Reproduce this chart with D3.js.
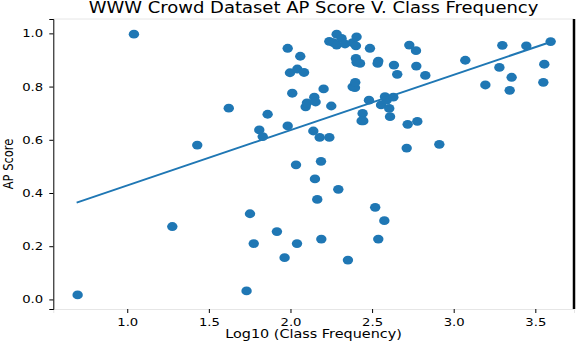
<!DOCTYPE html>
<html>
<head>
<meta charset="utf-8">
<script src="https://cdn.jsdelivr.net/npm/d3@7"></script>
<style>
  body { margin: 0; background: #fff; }
  text { font-family: "DejaVu Sans", sans-serif; fill: #000; }
</style>
</head>
<body>
<script>
// log10 of class frequency (x) and AP score (y)
const logFreq = [
  0.696, 1.041, 1.276, 1.429, 1.622, 1.731, 1.752, 1.775, 1.809, 1.830,
  1.860, 1.917, 1.964, 1.983, 1.983, 1.997, 2.011, 2.034, 2.040, 2.042,
  2.060, 2.083, 2.093, 2.101, 2.140, 2.146, 2.150, 2.154, 2.164, 2.179,
  2.187, 2.189, 2.203, 2.238, 2.238, 2.250, 2.263, 2.283, 2.283, 2.293,
  2.313, 2.334, 2.352, 2.381, 2.381, 2.395, 2.397, 2.401, 2.401, 2.405,
  2.405, 2.426, 2.436, 2.442, 2.446, 2.481, 2.487, 2.519, 2.534, 2.538,
  2.538, 2.555, 2.575, 2.579, 2.589, 2.605, 2.610, 2.630, 2.634, 2.654,
  2.712, 2.718, 2.728, 2.769, 2.771, 2.777, 2.826, 2.912, 3.071, 3.194,
  3.280, 3.298, 3.343, 3.355, 3.445, 3.549, 3.555, 3.594
];
const apScore = [
  0.017, 0.997, 0.274, 0.580, 0.719, 0.032, 0.322, 0.210, 0.637, 0.612,
  0.696, 0.255, 0.157, 0.944, 0.652, 0.852, 0.775, 0.506, 0.210, 0.866,
  0.914, 0.853, 0.724, 0.739, 0.633, 0.760, 0.453, 0.742, 0.376, 0.609,
  0.519, 0.227, 0.791, 0.970, 0.609, 0.727, 0.965, 0.997, 0.956, 0.414,
  0.981, 0.960, 0.148, 0.965, 0.799, 0.796, 0.816, 0.953, 0.906, 0.987,
  0.891, 0.887, 0.671, 0.699, 0.671, 0.749, 0.944, 0.346, 0.887, 0.896,
  0.227, 0.731, 0.296, 0.762, 0.749, 0.718, 0.687, 0.760, 0.881, 0.846,
  0.569, 0.658, 0.956, 0.935, 0.877, 0.669, 0.842, 0.583, 0.899, 0.806,
  0.872, 0.955, 0.786, 0.835, 0.953, 0.816, 0.884, 0.969
];

// fitted trend line end points
const fitX = [0.69, 3.58];
const fitY = [0.364, 0.965];

const xTicks = [1.0, 1.5, 2.0, 2.5, 3.0, 3.5];
const yTicks = [0.0, 0.2, 0.4, 0.6, 0.8, 1.0];

const width = 576, height = 342;
const blue = "#1f77b4";
const stretch = "scale(1.2,1)"; // source image is a bit wider than tall

const svg = d3.select("body").append("svg")
  .attr("width", width)
  .attr("height", height);

const x = d3.scaleLinear().domain([0.547, 3.737]).range([53.3, 574]);
const y = d3.scaleLinear().domain([-0.036, 1.054]).range([309, 19]);

// frame
svg.append("line")
  .attr("x1", 53.3).attr("x2", 574).attr("y1", 19).attr("y2", 19)
  .attr("stroke", "#e6e6e6");
svg.append("line")
  .attr("x1", 574).attr("x2", 574).attr("y1", 19).attr("y2", 309)
  .attr("stroke", "#000").attr("stroke-width", 2.5);

// points
svg.append("g")
  .selectAll("ellipse")
  .data(d3.range(logFreq.length))
  .join("ellipse")
  .attr("cx", i => x(logFreq[i]))
  .attr("cy", i => y(apScore[i]))
  .attr("rx", 5.2)
  .attr("ry", 4.4)
  .attr("fill", blue);

// trend line
svg.append("path")
  .datum(d3.range(fitX.length))
  .attr("fill", "none")
  .attr("stroke", blue)
  .attr("stroke-width", 2)
  .attr("d", d3.line().x(i => x(fitX[i])).y(i => y(fitY[i])));

// x axis
const xAxis = svg.append("g")
  .attr("transform", "translate(0,309)")
  .call(d3.axisBottom(x).tickValues(xTicks).tickFormat(d3.format(".1f")).tickSizeOuter(0).tickSize(4).tickPadding(5));
xAxis.select(".domain").attr("stroke", "#e6e6e6");
xAxis.selectAll(".tick line").attr("stroke", "#000");
xAxis.selectAll(".tick text")
  .attr("font-size", 11)
  .attr("font-family", "DejaVu Sans")
  .attr("transform", stretch);

// y axis
const yAxis = svg.append("g")
  .attr("transform", "translate(53.3,0)")
  .call(d3.axisLeft(y).tickValues(yTicks).tickFormat(d3.format(".1f")).tickSizeOuter(0).tickSize(4).tickPadding(5));
yAxis.select(".domain").attr("stroke", "#000");
yAxis.selectAll(".tick line").attr("stroke", "#000");
yAxis.selectAll(".tick text")
  .attr("font-size", 11)
  .attr("font-family", "DejaVu Sans")
  .attr("x", -8.5)
  .attr("transform", stretch);

// title and axis labels
svg.append("text")
  .attr("transform", `translate(313.5,13) ${stretch}`)
  .attr("text-anchor", "middle")
  .attr("font-size", 15)
  .text("WWW Crowd Dataset AP Score V. Class Frequency");

svg.append("text")
  .attr("transform", `translate(313.5,338) ${stretch}`)
  .attr("text-anchor", "middle")
  .attr("font-size", 12)
  .text("Log10 (Class Frequency)");

svg.append("text")
  .attr("transform", `translate(13,164) ${stretch} rotate(-90)`)
  .attr("text-anchor", "middle")
  .attr("font-size", 11.5)
  .text("AP Score");
</script>
</body>
</html>
